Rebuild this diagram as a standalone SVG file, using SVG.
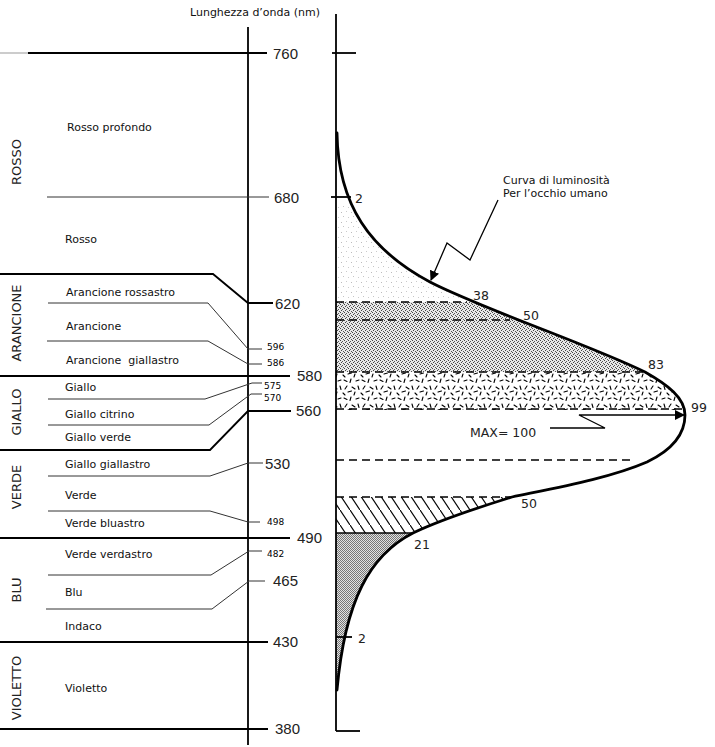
<svg xmlns="http://www.w3.org/2000/svg" width="715" height="747" viewBox="0 0 715 747">
<style>
.lbl{font-family:"DejaVu Sans",Verdana,sans-serif;font-size:11px;fill:#111}
.cat{font-family:"DejaVu Sans",Verdana,sans-serif;font-size:13px;fill:#222;text-anchor:middle}
.big{font-family:"Liberation Sans",Arial,sans-serif;font-size:15px;fill:#222}
.sm{font-family:"DejaVu Sans",Verdana,sans-serif;font-size:9px;fill:#000}
.val{font-family:"DejaVu Sans",Verdana,sans-serif;font-size:12.5px;fill:#222}
.thick{stroke:#000;stroke-width:1.8;fill:none}
.thin{stroke:#333;stroke-width:1;fill:none}
.dash{stroke:#000;stroke-width:1.6;stroke-dasharray:8 5;fill:none}
.curve{stroke:#000;stroke-width:2.8;fill:none;stroke-linejoin:round;stroke-linecap:round}
</style>
<defs>
<pattern id="pLight" width="10" height="10" patternUnits="userSpaceOnUse">
<rect x="1" y="2" width="1" height="1" fill="#bbb"/><rect x="6" y="1" width="1" height="1" fill="#ccc"/>
<rect x="3" y="6" width="1" height="1" fill="#c4c4c4"/><rect x="8" y="7" width="1" height="1" fill="#ccc"/>
</pattern>
<pattern id="pDense" width="4" height="4" patternUnits="userSpaceOnUse">
<rect width="4" height="4" fill="#e8e8e8"/>
<rect x="0" y="0" width="1" height="1" fill="#444"/><rect x="2" y="1" width="1" height="1" fill="#555"/>
<rect x="1" y="2" width="1" height="1" fill="#444"/><rect x="3" y="3" width="1" height="1" fill="#555"/>
</pattern>
<pattern id="pConf" width="18" height="18" patternUnits="userSpaceOnUse">
<g stroke="#000" stroke-width="1.1" stroke-linecap="round">
<path d="M2,2 l3,1.5 M9,1 l-1,3.5 M14,3 l3,-1 M16,8 l1,3.5 M5,8 l-2,3 M10,9 l3,2 M6,14 l3.5,-1 M13,14 l-1,3 M1,15 l2,2"/>
</g>
</pattern>
<pattern id="pHatch" width="10" height="15" patternUnits="userSpaceOnUse">
<path d="M-1,-1.5 L11,16.5" stroke="#000" stroke-width="1.2"/>
</pattern>
<pattern id="pFine" width="2" height="2" patternUnits="userSpaceOnUse">
<rect width="2" height="2" fill="#e2e2e2"/>
<rect x="0" y="0" width="1" height="1" fill="#777"/><rect x="1" y="1" width="1" height="1" fill="#777"/>
</pattern>
<clipPath id="under">
<path d="M336,133 L337,133 C338,205 370,250 430,282 C480,308 590,345 645,372 C668,385 685,398 685,415 C685,435 672,450 647,462 C610,478 560,487 512,497 C470,510 440,520 413,533 C370,555 345,600 337,690 L336,690 Z"/>
</clipPath>
<marker id="ah" viewBox="0 0 10 10" refX="9" refY="5" markerWidth="10" markerHeight="10" markerUnits="userSpaceOnUse" orient="auto">
<path d="M0,0 L10,5 L0,10 Z" fill="#000"/>
</marker>
</defs>
<rect width="715" height="747" fill="#fff"/>

<g id="title"><text class="lbl" x="190" y="16">Lunghezza d’onda (nm)</text></g>

<g id="scale-lines">
<line x1="248" y1="27" x2="248" y2="745" class="thick"/>
<line x1="0" y1="53" x2="28" y2="53" stroke="#999" stroke-width="1"/>
<line x1="28" y1="53" x2="267" y2="53" class="thick"/>
<line x1="47" y1="197" x2="269" y2="197" class="thin"/>
<polyline points="0,274 213,274 248,303 273,303" class="thick"/>
<polyline points="48,303 208,303 248,349 262,349" class="thin"/>
<polyline points="47,341 208,341 248,364 262,364" class="thin"/>
<line x1="0" y1="376" x2="290" y2="376" class="thick"/>
<polyline points="48,399 205,399 252,383 262,383" class="thin"/>
<polyline points="48,425 209,425 251,394 262,394" class="thin"/>
<polyline points="0,450 210,450 248,411 291,411" class="thick"/>
<polyline points="48,476 210,476 248,463 263,463" class="thin"/>
<polyline points="48,511 210,511 248,522 260,522" class="thin"/>
<line x1="0" y1="538" x2="290" y2="538" class="thick"/>
<polyline points="48,575 211,575 249,551 262,551" class="thin"/>
<polyline points="46,609 212,609 249,581 265,581" class="thin"/>
<line x1="0" y1="642" x2="268" y2="642" class="thick" stroke-width="1.5"/>
<line x1="0" y1="729" x2="268" y2="729" class="thick"/>
</g>

<g id="wavelengths">
<text class="big" x="273" y="59">760</text>
<text class="big" x="274" y="203">680</text>
<text class="big" x="275" y="309">620</text>
<text class="sm" x="267" y="350">596</text>
<text class="sm" x="267" y="366">586</text>
<text class="big" x="297" y="381">580</text>
<text class="sm" x="264" y="389">575</text>
<text class="sm" x="264" y="401">570</text>
<text class="big" x="296" y="416">560</text>
<text class="big" x="265" y="469">530</text>
<text class="sm" x="267" y="525">498</text>
<text class="big" x="297" y="543">490</text>
<text class="sm" x="267" y="557">482</text>
<text class="big" x="273" y="586">465</text>
<text class="big" x="273" y="647">430</text>
<text class="big" x="275" y="734">380</text>
</g>

<g id="color-names">
<text class="lbl" x="67" y="131">Rosso profondo</text>
<text class="lbl" x="65" y="243">Rosso</text>
<text class="lbl" x="66" y="296">Arancione rossastro</text>
<text class="lbl" x="66" y="330">Arancione</text>
<text class="lbl" x="66" y="364" xml:space="preserve">Arancione  giallastro</text>
<text class="lbl" x="65" y="391">Giallo</text>
<text class="lbl" x="65" y="418">Giallo citrino</text>
<text class="lbl" x="65" y="441">Giallo verde</text>
<text class="lbl" x="65" y="468">Giallo giallastro</text>
<text class="lbl" x="65" y="499">Verde</text>
<text class="lbl" x="65" y="527">Verde bluastro</text>
<text class="lbl" x="65" y="558">Verde verdastro</text>
<text class="lbl" x="65" y="596">Blu</text>
<text class="lbl" x="65" y="630">Indaco</text>
<text class="lbl" x="65" y="692">Violetto</text>
</g>

<g id="groups">
<text class="cat" transform="translate(21,162) rotate(-90)">ROSSO</text>
<text class="cat" transform="translate(21,323) rotate(-90)">ARANCIONE</text>
<text class="cat" transform="translate(21,412) rotate(-90)">GIALLO</text>
<text class="cat" transform="translate(21,487) rotate(-90)">VERDE</text>
<text class="cat" transform="translate(21,590) rotate(-90)">BLU</text>
<text class="cat" transform="translate(21,688) rotate(-90)">VIOLETTO</text>
</g>

<g id="fills" clip-path="url(#under)">
<rect x="336" y="205" width="360" height="97" fill="url(#pLight)"/>
<rect x="336" y="302" width="360" height="70" fill="url(#pDense)"/>
<rect x="336" y="372" width="360" height="38" fill="url(#pConf)"/>
<rect x="336" y="497" width="360" height="36" fill="url(#pHatch)"/>
<rect x="336" y="533" width="360" height="160" fill="url(#pFine)"/>
</g>

<g id="curve-axis">
<line x1="336" y1="14" x2="336" y2="731" class="thick" stroke-width="2"/>
<line x1="336" y1="731" x2="360" y2="731" class="thick"/>
<line x1="332" y1="53" x2="356" y2="53" class="thick"/>
<line x1="331" y1="197" x2="351" y2="197" class="thick" stroke-width="1.4"/>
<line x1="336" y1="637" x2="352" y2="637" class="thick" stroke-width="1.4"/>
<line x1="336" y1="302" x2="467" y2="302" class="dash"/>
<line x1="336" y1="320" x2="510" y2="320" class="dash"/>
<line x1="336" y1="372" x2="645" y2="372" class="dash"/>
<line x1="336" y1="409" x2="683" y2="409" class="dash"/>
<line x1="336" y1="460" x2="630" y2="460" class="dash"/>
<line x1="336" y1="497" x2="512" y2="497" class="dash"/>
<line x1="336" y1="533" x2="413" y2="533" stroke="#000" stroke-width="1.5"/>
<path class="curve" d="M337,133 C338,205 370,250 430,282 C480,308 590,345 645,372 C668,385 685,398 685,415 C685,435 672,450 647,462 C610,478 560,487 512,497 C470,510 440,520 413,533 C370,555 345,600 337,690"/>
</g>

<g id="curve-values">
<text class="val" x="355" y="203">2</text>
<text class="val" x="473" y="300">38</text>
<text class="val" x="523" y="320">50</text>
<text class="val" x="648" y="369">83</text>
<text class="val" x="691" y="412">99</text>
<text class="val" x="521" y="508">50</text>
<text class="val" x="414" y="549">21</text>
<text class="val" x="358" y="643">2</text>
<text class="val" x="470" y="437" font-size="13">MAX= 100</text>
<text class="lbl" x="503" y="184">Curva di luminosità</text>
<text class="lbl" x="503" y="197">Per l’occhio umano</text>
</g>

<g id="connectors">
<polyline points="498,200 470,260 447,243 431,280" fill="none" stroke="#000" stroke-width="1.3" marker-end="url(#ah)"/>
<polyline points="550,428 605,428 579,415 684,415" fill="none" stroke="#000" stroke-width="1.3" marker-end="url(#ah)"/>
</g>
</svg>
